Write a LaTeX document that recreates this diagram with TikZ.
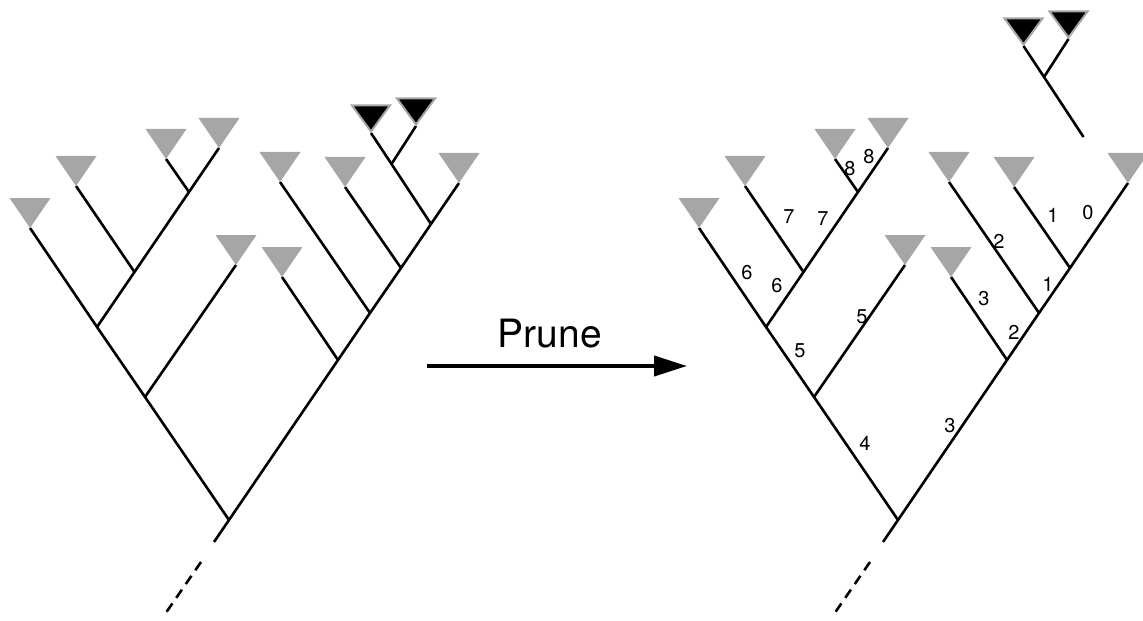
\documentclass[tikz,border=0pt]{standalone}
\usepackage{fontspec}
\setmainfont{TeX Gyre Heros}
\usepackage{tikz}
\usetikzlibrary{arrows.meta}
\definecolor{leafgray}{RGB}{166,166,166}

\begin{document}
\begin{tikzpicture}[
    x=0.5pt, y=-0.5pt,
    branch/.style={line width=1.3pt},
    root stub/.style={line width=1.3pt, dash pattern=on 5pt off 3.4pt},
    num/.style={font=\fontsize{10}{12}\selectfont, inner sep=0pt},
    leaf/.pic={\fill[leafgray] (-20.5,-30) -- (20.5,-30) -- (0,0) -- cycle;},
    cut leaf/.pic={\filldraw[fill=black, draw=leafgray, line width=1pt]
        (-19,-27.5) -- (19,-27.5) -- (0,-1.5) -- cycle;}
    ]
    \useasboundingbox (0,0) rectangle (1143,620);

    % full tree
    \coordinate (lR) at (229,520);
    \coordinate (lA) at (145,397);
    \coordinate (lB) at (338,360);
    \coordinate (lC) at (97,327);
    \coordinate (lD) at (134.5,272);
    \coordinate (lE) at (189,192);
    \coordinate (lF) at (370,313);
    \coordinate (lG) at (401,268);
    \coordinate (lH) at (431,224);
    \coordinate (lI) at (391.5,164);
    \coordinate (l1) at (30,228);
    \coordinate (l2) at (76,186);
    \coordinate (l3) at (166,159);
    \coordinate (l4) at (219,148);
    \coordinate (l6) at (236,265);
    \coordinate (l7) at (282,277);
    \coordinate (l8) at (280,182);
    \coordinate (l9) at (345,187);
    \coordinate (l10) at (371,133);
    \coordinate (l11) at (416,126);
    \coordinate (l12) at (459,183);
    \coordinate (lT1) at (214,542);
    \coordinate (lT2) at (201,562);
    \coordinate (lT3) at (163,617);

    \draw[branch] (lT1) -- (lR) -- (lB) -- (lF) -- (lG) -- (lH) -- (l12);
    \draw[branch] (lR) -- (lA) -- (lC) -- (l1);
    \draw[branch] (lC) -- (lD) -- (lE) -- (l4);
    \draw[branch] (lD) -- (l2);
    \draw[branch] (lE) -- (l3);
    \draw[branch] (lA) -- (l6);
    \draw[branch] (lB) -- (l7);
    \draw[branch] (lF) -- (l8);
    \draw[branch] (lG) -- (l9);
    \draw[branch] (lH) -- (lI) -- (l10);
    \draw[branch] (lI) -- (l11);
    \draw[root stub] (lT2) -- (lT3);
    \foreach \n in {l1,l2,l3,l4,l6,l7,l8,l9,l12}
        \pic at (\n) {leaf};
    \pic at (l10) {cut leaf};
    \pic at (l11) {cut leaf};

    % arrow
    \coordinate (from) at (427,366);
    \coordinate (to) at (687,366);
    \draw[line width=2pt, -{Triangle[length=16.5pt, width=10pt]}] (from) -- (to);
    \node[font=\fontsize{19.5}{23}\selectfont, anchor=base] (prune) at (550,347) {Prune};

    % pruned tree
    \begin{scope}[shift={(669,0)}]
        \coordinate (rR) at (229,520);
        \coordinate (rA) at (145,397);
        \coordinate (rB) at (338,360);
        \coordinate (rC) at (97,327);
        \coordinate (rD) at (134.5,272);
        \coordinate (rE) at (189,192);
        \coordinate (rF) at (370,313);
        \coordinate (rG) at (401,268);
        \coordinate (r1) at (30,228);
        \coordinate (r2) at (76,186);
        \coordinate (r3) at (166,159);
        \coordinate (r4) at (219,148);
        \coordinate (r6) at (236,265);
        \coordinate (r7) at (282,277);
        \coordinate (r8) at (280,182);
        \coordinate (r9) at (345,187);
        \coordinate (r12) at (459,183);
        \coordinate (rT1) at (214,542);
        \coordinate (rT2) at (201,562);
        \coordinate (rT3) at (163,617);

        \draw[branch] (rT1) -- (rR) -- (rB) -- (rF) -- (rG) -- (r12);
        \draw[branch] (rR) -- (rA) -- (rC) -- (r1);
        \draw[branch] (rC) -- (rD) -- (rE) -- (r4);
        \draw[branch] (rD) -- (r2);
        \draw[branch] (rE) -- (r3);
        \draw[branch] (rA) -- (r6);
        \draw[branch] (rB) -- (r7);
        \draw[branch] (rF) -- (r8);
        \draw[branch] (rG) -- (r9);
        \draw[root stub] (rT2) -- (rT3);
        \foreach \n in {r1,r2,r3,r4,r6,r7,r8,r9,r12}
            \pic at (\n) {leaf};
    \end{scope}

    % clade cut off
    \begin{scope}[shift={(652.5,-87)}]
        \coordinate (cH) at (431,224);
        \coordinate (cI) at (391.5,164);
        \coordinate (c10) at (371,133);
        \coordinate (c11) at (416,126);
        \draw[branch] (cH) -- (cI) -- (c10);
        \draw[branch] (cI) -- (c11);
        \pic at (c10) {cut leaf};
        \pic at (c11) {cut leaf};
    \end{scope}

    % branch counts
    \foreach \t/\x/\y [count=\i] in {8/850/169, 8/869/157, 7/789/217, 7/823/219,
        6/747/273, 6/777/286, 5/800/351, 5/862/317, 4/865/443, 3/950/426,
        3/984/299, 2/1014/332, 2/999/241, 1/1048/284, 1/1053/215, 0/1088/213}
        \node[num] (cnt\i) at (\x,\y) {\t};
\end{tikzpicture}
\end{document}
